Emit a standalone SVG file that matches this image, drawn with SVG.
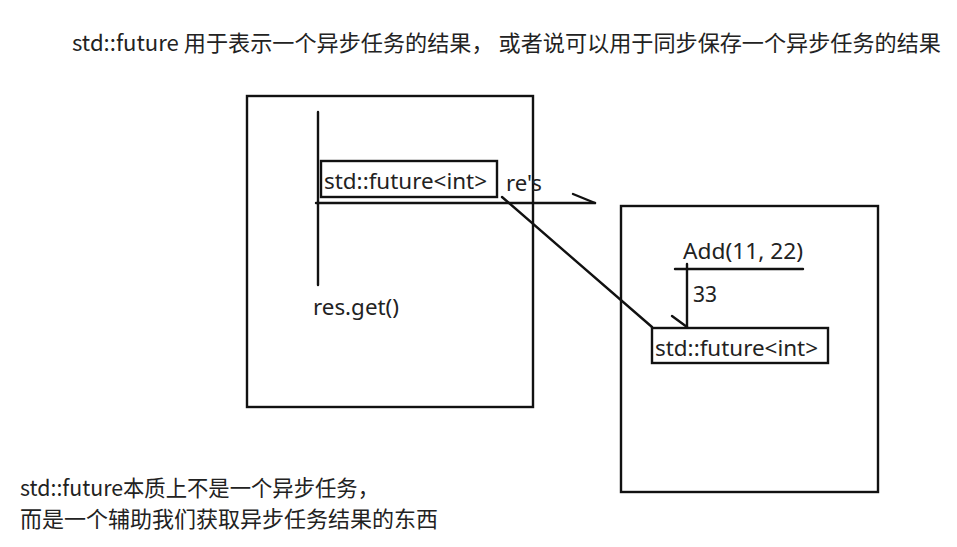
<svg xmlns="http://www.w3.org/2000/svg" width="957" height="547" viewBox="0 0 957 547">
<style>
.bg{fill:#ffffff}
.box{fill:none;stroke:#111;stroke-width:2.4}
.ln{fill:none;stroke:#111;stroke-width:2.4;stroke-linecap:round}
.t{font-family:"Noto Sans","Noto Sans CJK SC",sans-serif;font-size:21.5px;fill:#222}
.cn{font-family:"Noto Sans CJK SC","Noto Sans",sans-serif;font-size:22px;fill:#222}
</style>
<rect class="bg" x="0" y="0" width="957" height="547"/>
<g id="title">
<text class="cn" x="72" y="51" textLength="869" lengthAdjust="spacingAndGlyphs">std::future 用于表示一个异步任务的结果， 或者说可以用于同步保存一个异步任务的结果</text>
</g>
<g id="caller">
<rect class="box" x="247" y="96" width="286" height="311"/>
<line class="ln" x1="318" y1="112" x2="318" y2="285"/>
<text class="t" x="313" y="315" textLength="86" lengthAdjust="spacingAndGlyphs">res.get()</text>
</g>
<g id="future-caller">
<rect class="box" x="321" y="161" width="176" height="36"/>
<text class="t" x="324" y="189" textLength="163" lengthAdjust="spacingAndGlyphs">std::future&lt;int&gt;</text>
</g>
<g id="task">
<rect class="box" x="621" y="206" width="257" height="286"/>
<text class="t" x="683" y="259" textLength="120" lengthAdjust="spacingAndGlyphs">Add(11, 22)</text>
<line class="ln" x1="675" y1="269" x2="803" y2="269"/>
</g>
<g id="future-task">
<rect class="box" x="652" y="328" width="176" height="35"/>
<text class="t" x="655" y="356" textLength="163" lengthAdjust="spacingAndGlyphs">std::future&lt;int&gt;</text>
</g>
<g id="connectors">
<line class="ln" x1="316" y1="203" x2="595" y2="203"/>
<line class="ln" x1="573" y1="194" x2="595" y2="203"/>
<text class="t" x="506" y="191" textLength="36" lengthAdjust="spacingAndGlyphs">re's</text>
<line class="ln" x1="502" y1="197" x2="652" y2="327"/>
<line class="ln" x1="687" y1="264" x2="687" y2="327"/>
<line class="ln" x1="672" y1="316" x2="687" y2="327"/>
<text class="t" x="693" y="302" textLength="24" lengthAdjust="spacingAndGlyphs">33</text>
</g>
<g id="note">
<text class="cn" x="20" y="496" textLength="359" lengthAdjust="spacingAndGlyphs">std::future本质上不是一个异步任务，</text>
<text class="cn" x="20" y="527" textLength="418" lengthAdjust="spacingAndGlyphs">而是一个辅助我们获取异步任务结果的东西</text>
</g>
</svg>
